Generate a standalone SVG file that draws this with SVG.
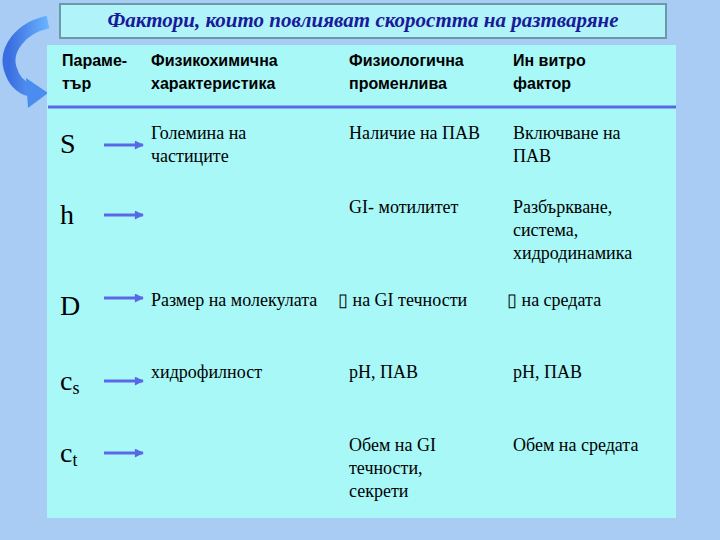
<svg xmlns="http://www.w3.org/2000/svg" width="720" height="540" viewBox="0 0 720 540">
<defs>
<style>
.h{font-family:"Liberation Sans",Arial,sans-serif;font-weight:bold;font-size:16px;fill:#000}
.t{font-family:"Liberation Serif","Times New Roman",serif;font-size:18px;fill:#000}
.p{font-family:"Liberation Serif","Times New Roman",serif;font-size:28px;fill:#000}
.ar{stroke:#5a68e8;stroke-width:3;fill:none}
</style>
<marker id="m" viewBox="0 0 10 10" refX="9" refY="5" markerWidth="4" markerHeight="3" orient="auto"><path d="M0,0L10,5L0,10z" fill="#5a68e8"/></marker>
<linearGradient id="g" x1="0" y1="0" x2="1" y2="0"><stop offset="0" stop-color="#3a6ee0"/><stop offset="1" stop-color="#6ab4ff"/></linearGradient>
</defs>
<rect width="720" height="540" fill="#a8ccf4"/>
<path d="M48,22 C20,28 5,50 10,68 C14,82 22,88 30,90" fill="none" stroke="url(#g)" stroke-width="13"/>
<polygon points="26,78 48,93 28,108" fill="#4a8cf0"/>
<g id="title"><rect x="60" y="4" width="606" height="34" fill="#b0f4fa" stroke="#6a9aa8" stroke-width="2"/>
<text x="363" y="27" text-anchor="middle" style="font-family:'Liberation Serif',serif;font-weight:bold;font-style:italic;font-size:21px;fill:#1a1a9a">Фактори, които повлияват скоростта на разтваряне</text></g>
<g id="table"><rect x="47" y="45" width="629" height="473" fill="#a8f8f8"/>
<line x1="48" y1="107" x2="676" y2="107" stroke="#5a68e8" stroke-width="3"/>
<text class="h" x="62" y="66">Параме-</text><text class="h" x="62" y="89">тър</text>
<text class="h" x="151" y="66">Физикохимична</text><text class="h" x="151" y="89">характеристика</text>
<text class="h" x="349" y="66">Физиологична</text><text class="h" x="349" y="89">променлива</text>
<text class="h" x="513" y="66">Ин витро</text><text class="h" x="513" y="89">фактор</text>
<text class="p" x="60" y="153">S</text>
<text class="t" x="151" y="139">Големина на</text><text class="t" x="151" y="162">частиците</text>
<text class="t" x="349" y="139">Наличие на ПАВ</text>
<text class="t" x="513" y="139">Включване на</text><text class="t" x="513" y="162">ПАВ</text>
<text class="p" x="60" y="224">h</text>
<text class="t" x="349" y="213">GI- мотилитет</text>
<text class="t" x="513" y="213">Разбъркване,</text><text class="t" x="513" y="236">система,</text><text class="t" x="513" y="259">хидродинамика</text>
<text class="p" x="60" y="315">D</text>
<text class="t" x="151" y="306">Размер на молекулата</text>
<text class="t" x="338" y="306">▯ на GI течности</text>
<text class="t" x="507" y="306">▯ на средата</text>
<text class="p" x="60" y="390">c<tspan font-size="18" dy="4">s</tspan></text>
<text class="t" x="151" y="378">хидрофилност</text>
<text class="t" x="349" y="378">pH, ПАВ</text>
<text class="t" x="513" y="378">pH, ПАВ</text>
<text class="p" x="60" y="462">c<tspan font-size="18" dy="4">t</tspan></text>
<text class="t" x="349" y="451">Обем на GI</text><text class="t" x="349" y="474">течности,</text><text class="t" x="349" y="497">секрети</text>
<text class="t" x="513" y="451">Обем на средата</text></g>
<g id="connectors">
<line class="ar" x1="104" y1="145" x2="143" y2="145" marker-end="url(#m)"/>
<line class="ar" x1="104" y1="215" x2="143" y2="215" marker-end="url(#m)"/>
<line class="ar" x1="104" y1="298" x2="143" y2="298" marker-end="url(#m)"/>
<line class="ar" x1="104" y1="381" x2="143" y2="381" marker-end="url(#m)"/>
<line class="ar" x1="104" y1="453" x2="143" y2="453" marker-end="url(#m)"/>
</g>
</svg>
